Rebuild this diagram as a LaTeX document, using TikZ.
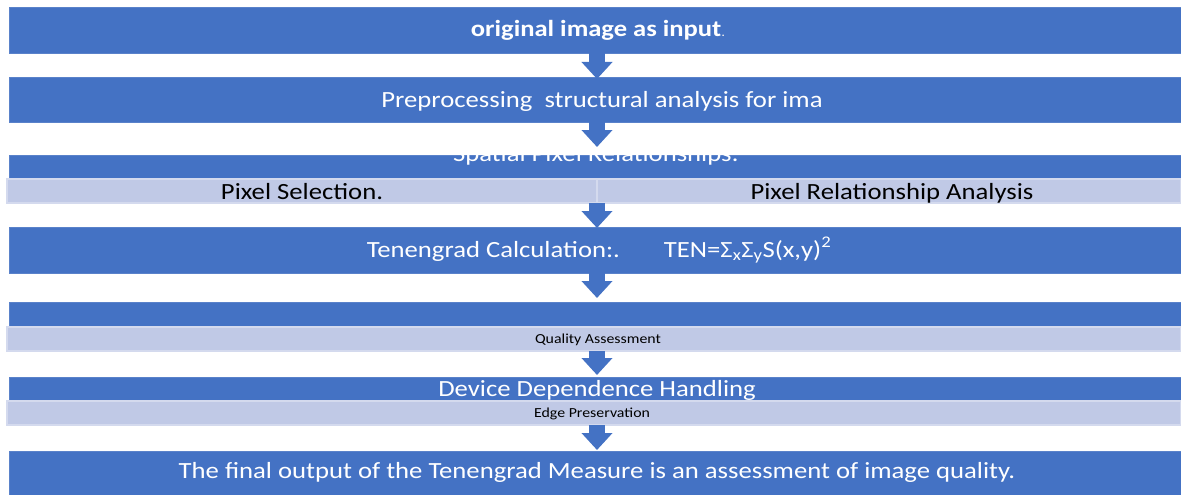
\documentclass[tikz,border=0pt]{standalone}
\usepackage{fontspec}
\setmainfont{Carlito}[FakeStretch=1.15]
\usetikzlibrary{arrows.meta}
\definecolor{boxblue}{HTML}{4472C4}
\definecolor{boxedge}{HTML}{5A82CA}
\definecolor{lightfill}{HTML}{C0C9E6}
\definecolor{lightedge}{HTML}{D4DAEE}
\begin{document}
\begin{tikzpicture}[x=1pt,y=-1pt,
  bluebox/.style={fill=boxblue, draw=boxedge, line width=0.8pt, inner sep=0pt, outer sep=0pt, anchor=north west},
  lightbox/.style={fill=lightfill, draw=lightedge, line width=2.5pt, inner sep=0pt, outer sep=0pt, anchor=north west},
  flowarrow/.style={draw=boxblue, line width=16pt, -{Triangle[width=30pt,length=17pt]}},
  wtext/.style={text=white, anchor=base, inner sep=0pt},
  btext/.style={text=black, anchor=base, inner sep=0pt},
  bigfont/.style={font=\fontsize{23.2}{27}\selectfont},
  smallfont/.style={font=\fontsize{13.8}{16}\selectfont}]
\useasboundingbox (0,0) rectangle (1181,495);
\fill[white] (0,0) rectangle (1181,495);
\coordinate (ax) at (597,0);
% boxes
\node[bluebox, minimum width=1172pt, minimum height=46pt] (b1) at (9,7) {};
\node[bluebox, minimum width=1172pt, minimum height=45pt] (b2) at (9,77) {};
\node[bluebox, minimum width=1172pt, minimum height=24pt] (b3) at (9,155) {};
\node[lightbox, minimum width=590pt, minimum height=24pt] (b3l) at (7,179) {};
\node[lightbox, minimum width=584pt, minimum height=24pt] (b3r) at (597,179) {};
\node[bluebox, minimum width=1172pt, minimum height=46pt] (b4) at (9,227) {};
\node[bluebox, minimum width=1172pt, minimum height=25pt] (b5) at (9,302) {};
\node[lightbox, minimum width=1174pt, minimum height=24pt] (b5l) at (7,327) {};
\node[bluebox, minimum width=1172pt, minimum height=24pt] (b6) at (9,377) {};
\node[lightbox, minimum width=1174pt, minimum height=24pt] (b6l) at (7,401) {};
\node[bluebox, minimum width=1172pt, minimum height=44pt] (b7) at (9,451) {};
% texts
\node[wtext, font=\fontsize{23.1}{27}\selectfont\bfseries] (t1) at (598,37) {original image as input\textcolor{white!85!gray}{\fontsize{13}{15}\mdseries\selectfont.}};
\node[wtext, bigfont] (t2) at (602,107) {Preprocessing\ \ structural analysis for ima};
\begin{scope}
\clip (b3.north west) rectangle (b3.south east);
\node[wtext, bigfont] (t3) at (596,161) {Spatial Pixel Relationships:};
\end{scope}
\node[btext, bigfont] (t3l) at (302,199) {Pixel Selection.};
\node[btext, bigfont] (t3r) at (892,199) {Pixel Relationship Analysis};
\node[wtext, bigfont] (t4) at (599,257) {Tenengrad Calculation:.\hspace{44pt}TEN=Σ\textsubscript{x}Σ\textsubscript{y}S(x,y)\textsuperscript{2}};
\node[btext, smallfont] (t5) at (598,343) {Quality Assessment};
\node[wtext, bigfont] (t6) at (597,396) {Device Dependence Handling};
\node[btext, smallfont] (t6l) at (592,417) {Edge Preservation};
\node[wtext, bigfont] (t7) at (597,478) {The final output of the Tenengrad Measure is an assessment of image quality.};
% arrows
\draw[flowarrow] (b1.south -| ax) -- ([yshift=-2pt]b2.north -| ax);
\draw[flowarrow, shorten >=8pt] (b2.south -| ax) -- (b3.north -| ax);
\draw[flowarrow] (b3r.south -| ax) -- ([yshift=-1pt]b4.north -| ax);
\draw[flowarrow] (b4.south -| ax) -- ([yshift=4pt]b5.north -| ax);
\draw[flowarrow] (b5l.south -| ax) -- ([yshift=2pt]b6.north -| ax);
\draw[flowarrow] (b6l.south -| ax) -- ([yshift=1pt]b7.north -| ax);
\end{tikzpicture}
\end{document}
